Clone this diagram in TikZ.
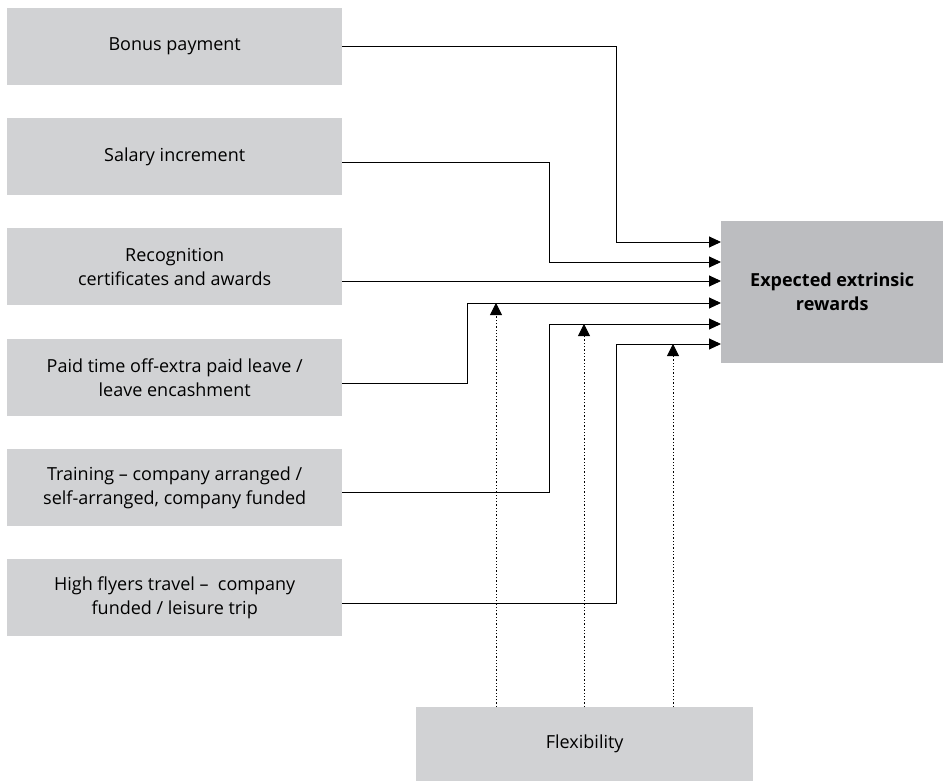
\documentclass[tikz,border=0pt]{standalone}
\usepackage{fontspec}
\setmainfont{Open Sans}
\usetikzlibrary{arrows.meta}
\definecolor{boxgray}{RGB}{209,210,212}
\definecolor{goalgray}{RGB}{188,189,192}
\begin{document}
\begin{tikzpicture}[x=1pt,y=-1pt,
  every node/.style={font=\fontsize{18}{24}\selectfont},
  factor/.style={fill=boxgray,anchor=north west,minimum width=335pt,minimum height=77pt,align=center,inner sep=0pt},
  link/.style={draw=black,line width=0.9pt,-{Triangle[length=12pt,width=11pt]}},
  flexlink/.style={draw=black,line width=0.9pt,dash pattern=on 1.3pt off 2pt,-{Triangle[length=12pt,width=12pt]}}]
\useasboundingbox (0,0) rectangle (943,781);
% left boxes
\node[factor] (bonus) at (7,8) {Bonus payment};
\node[factor] (salary) at (7,118) {Salary increment};
\node[factor] (recog) at (7,228) {Recognition\\certificates and awards};
\node[factor] (paid) at (7,339) {Paid time off-extra paid leave /\\leave encashment};
\node[factor] (train) at (7,449) {Training -- company arranged /\\self-arranged, company funded};
\node[factor] (travel) at (7,559) {High flyers travel --\ \ company\\funded / leisure trip};
% goal and moderator
\node[fill=goalgray,anchor=north west,minimum width=222pt,minimum height=142pt,inner sep=0pt,align=center,font=\fontsize{18}{24}\selectfont\bfseries] (goal) at (721,221) {Expected extrinsic\\rewards};
\node[fill=boxgray,anchor=north west,minimum width=337pt,minimum height=74pt,inner sep=0pt] (flex) at (416,707) {Flexibility};
% connectors
\draw[link] (bonus.east) -| (616,242) -- (goal.west |- 0,242);
\draw[link] (salary.east |- 0,162) -| (549,262) -- (goal.west |- 0,262);
\draw[link] (recog.east |- 0,281) -- (goal.west |- 0,281);
\draw[link] (paid.east |- 0,383) -| (467,303) -- (goal.west |- 0,303);
\draw[link] (train.east |- 0,492) -| (549,324) -- (goal.west |- 0,324);
\draw[link] (travel.east |- 0,603) -| (616,344) -- (goal.west |- 0,344);
\draw[flexlink] (flex.north -| 496,0) -- (496,303);
\draw[flexlink] (flex.north -| 584,0) -- (584,324);
\draw[flexlink] (flex.north -| 673,0) -- (673,344);
\end{tikzpicture}
\end{document}
